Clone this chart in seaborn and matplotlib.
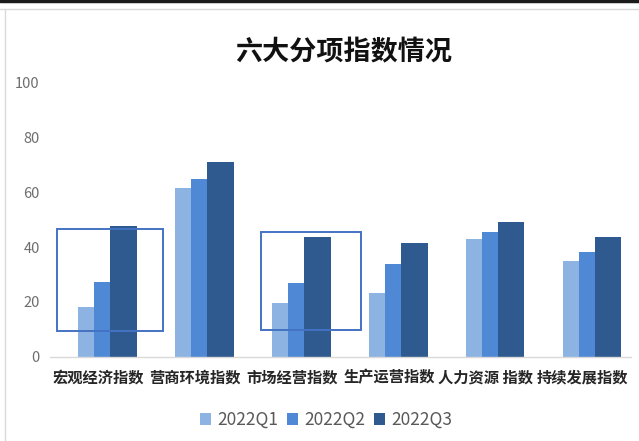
import matplotlib

matplotlib.use("Agg")
import matplotlib.pyplot as plt
import numpy as np
import pandas as pd
import seaborn as sns
from matplotlib.patches import Rectangle

categories = ["宏观经济指数", "营商环境指数", "市场经营指数", "生产运营指数", "人力资源 指数", "持续发展指数"]
quarters = ["2022Q1", "2022Q2", "2022Q3"]
q1_values = [18.3, 61.6, 19.8, 23.2, 42.9, 35.0]
q2_values = [27.4, 64.6, 26.8, 33.7, 45.3, 38.3]
q3_values = [47.7, 70.8, 43.5, 41.6, 49.2, 43.5]
colors = ["#8DB3E2", "#4F88D5", "#2F5A8F"]

# highlight boxes drawn over the chart (x in category units, y in data units)
highlight_boxes = [(-0.42, 9.5, 1.09, 37.0), (1.68, 9.8, 1.03, 35.7)]

df = pd.DataFrame(
    {
        "category": categories * 3,
        "quarter": np.repeat(quarters, len(categories)),
        "value": q1_values + q2_values + q3_values,
    }
)

sns.set_theme(style="white")
plt.rcParams["font.family"] = ["Noto Sans CJK SC", "DejaVu Sans"]

fig = plt.figure(figsize=(6.39, 4.41), dpi=100)
ax = fig.add_axes([0.0775, 0.1905, 0.9105, 0.6235])

sns.barplot(
    data=df,
    x="category",
    y="value",
    hue="quarter",
    palette=colors,
    ax=ax,
    legend=True,
    saturation=1,
    linewidth=0,
)

# Excel-style overlapping bars: wide bars, smaller step between series
bar_w = 0.27
step = 0.168
shift = 0.095
for i, container in enumerate(ax.containers):
    for j, patch in enumerate(container.patches):
        center = j + shift + (i - 1) * step
        patch.set_x(center - bar_w / 2)
        patch.set_width(bar_w)

for x0, y0, w, h in highlight_boxes:
    ax.add_patch(Rectangle((x0, y0), w, h, fill=False, edgecolor="#4472C4", linewidth=1.4, zorder=5))

ax.set_xlim(-0.5, len(categories) - 0.5)
ax.set_ylim(0, 100)
ax.set_yticks([0, 20, 40, 60, 80, 100])
ax.set_xlabel("")
ax.set_ylabel("")
ax.tick_params(axis="y", labelsize=10.5, labelcolor="#6E6E6E", length=0, pad=7)
ax.tick_params(axis="x", labelsize=11, labelcolor="#262626", length=0, pad=9)
for lbl in ax.get_xticklabels():
    lbl.set_fontweight("bold")
for side in ["left", "right", "top"]:
    ax.spines[side].set_visible(False)
ax.spines["bottom"].set_color("#D9D9D9")
ax.spines["bottom"].set_linewidth(1)

fig.text(0.538, 0.882, "六大分项指数情况", ha="center", va="center", fontsize=19.5, fontweight="bold", color="#111111")

handles, labels = ax.get_legend_handles_labels()
ax.legend_.remove()
leg = fig.legend(
    handles,
    labels,
    loc="center",
    bbox_to_anchor=(0.51, 0.048),
    ncol=3,
    frameon=False,
    fontsize=12.5,
    handlelength=0.65,
    handleheight=0.65,
    handletextpad=0.35,
    columnspacing=0.5,
)
for t in leg.get_texts():
    t.set_color("#595959")

# outer frame like the screenshot
fig.add_artist(plt.Line2D([0, 1], [0.998, 0.998], color="#1A1A1A", linewidth=2.5, transform=fig.transFigure))
fig.add_artist(plt.Line2D([0, 1], [0.979, 0.979], color="#D9D9D9", linewidth=1, transform=fig.transFigure))
fig.add_artist(plt.Line2D([0.008, 0.008], [0, 0.979], color="#D9D9D9", linewidth=1, transform=fig.transFigure))

fig.savefig("out.png", dpi=100)
